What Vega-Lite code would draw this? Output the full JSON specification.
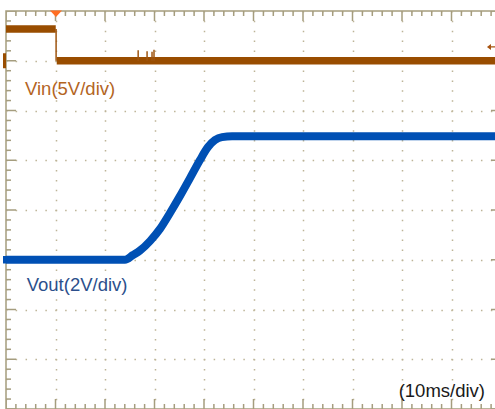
{
  "$schema": "https://vega.github.io/schema/vega-lite/v6.json",
  "width": 495,
  "height": 398,
  "autosize": "none",
  "padding": {"left": 6, "top": 11, "right": 0, "bottom": 0},
  "background": "#ffffff",
  "config": {
    "view": {"stroke": "#a59d7e", "strokeWidth": 1.5},
    "axisX": {"grid": true, "tickCount": 10, "gridDash": [1.5, 8.45], "gridDashOffset": 0.75, "gridColor": "#bdb497", "gridWidth": 1.5, "domain": false, "ticks": false, "labels": false},
    "axisY": {"grid": true, "tickCount": 8, "gridDash": [1.5, 8.4], "gridDashOffset": 0.75, "gridColor": "#bdb497", "gridWidth": 1.5, "domain": false, "ticks": false, "labels": false},
    "text": {"font": "Liberation Sans"}
  },
  "datasets": {
    "ticksX": [
      {"t": 0, "k": "major"}, {"t": 2, "k": "minor"}, {"t": 4, "k": "minor"}, {"t": 6, "k": "minor"}, {"t": 8, "k": "minor"},
      {"t": 10, "k": "major"}, {"t": 12, "k": "minor"}, {"t": 14, "k": "minor"}, {"t": 16, "k": "minor"}, {"t": 18, "k": "minor"},
      {"t": 20, "k": "major"}, {"t": 22, "k": "minor"}, {"t": 24, "k": "minor"}, {"t": 26, "k": "minor"}, {"t": 28, "k": "minor"},
      {"t": 30, "k": "major"}, {"t": 32, "k": "minor"}, {"t": 34, "k": "minor"}, {"t": 36, "k": "minor"}, {"t": 38, "k": "minor"},
      {"t": 40, "k": "major"}, {"t": 42, "k": "minor"}, {"t": 44, "k": "minor"}, {"t": 46, "k": "minor"}, {"t": 48, "k": "minor"},
      {"t": 50, "k": "major"}, {"t": 52, "k": "minor"}, {"t": 54, "k": "minor"}, {"t": 56, "k": "minor"}, {"t": 58, "k": "minor"},
      {"t": 60, "k": "major"}, {"t": 62, "k": "minor"}, {"t": 64, "k": "minor"}, {"t": 66, "k": "minor"}, {"t": 68, "k": "minor"},
      {"t": 70, "k": "major"}, {"t": 72, "k": "minor"}, {"t": 74, "k": "minor"}, {"t": 76, "k": "minor"}, {"t": 78, "k": "minor"},
      {"t": 80, "k": "major"}, {"t": 82, "k": "minor"}, {"t": 84, "k": "minor"}, {"t": 86, "k": "minor"}, {"t": 88, "k": "minor"},
      {"t": 90, "k": "major"}, {"t": 92, "k": "minor"}, {"t": 94, "k": "minor"}, {"t": 96, "k": "minor"}, {"t": 98, "k": "minor"},
      {"t": 100, "k": "major"}
    ],
    "ticksY": [
      {"div": 0, "k": "major"}, {"div": 0.2, "k": "minor"}, {"div": 0.4, "k": "minor"}, {"div": 0.6, "k": "minor"}, {"div": 0.8, "k": "minor"},
      {"div": 1, "k": "major"}, {"div": 1.2, "k": "minor"}, {"div": 1.4, "k": "minor"}, {"div": 1.6, "k": "minor"}, {"div": 1.8, "k": "minor"},
      {"div": 2, "k": "major"}, {"div": 2.2, "k": "minor"}, {"div": 2.4, "k": "minor"}, {"div": 2.6, "k": "minor"}, {"div": 2.8, "k": "minor"},
      {"div": 3, "k": "major"}, {"div": 3.2, "k": "minor"}, {"div": 3.4, "k": "minor"}, {"div": 3.6, "k": "minor"}, {"div": 3.8, "k": "minor"},
      {"div": 4, "k": "major"}, {"div": 4.2, "k": "minor"}, {"div": 4.4, "k": "minor"}, {"div": 4.6, "k": "minor"}, {"div": 4.8, "k": "minor"},
      {"div": 5, "k": "major"}, {"div": 5.2, "k": "minor"}, {"div": 5.4, "k": "minor"}, {"div": 5.6, "k": "minor"}, {"div": 5.8, "k": "minor"},
      {"div": 6, "k": "major"}, {"div": 6.2, "k": "minor"}, {"div": 6.4, "k": "minor"}, {"div": 6.6, "k": "minor"}, {"div": 6.8, "k": "minor"},
      {"div": 7, "k": "major"}, {"div": 7.2, "k": "minor"}, {"div": 7.4, "k": "minor"}, {"div": 7.6, "k": "minor"}, {"div": 7.8, "k": "minor"},
      {"div": 8, "k": "major"}
    ]
  },
  "layer": [
    {
      "layer": [
        {
          "data": {"name": "ticksX"},
          "mark": {"type": "tick", "orient": "vertical", "clip": true, "thickness": 1.5, "color": "#a59d7e", "opacity": 1},
          "encoding": {
            "x": {"field": "t", "type": "quantitative", "scale": {"domain": [0, 100], "nice": false, "zero": false}, "title": null},
            "y": {"datum": 8, "type": "quantitative", "scale": {"domain": [0, 8], "nice": false, "zero": false}, "title": null},
            "size": {"field": "k", "type": "ordinal", "scale": {"domain": ["minor", "major"], "range": [10, 20]}, "legend": null}
          }
        },
        {
          "data": {"name": "ticksX"},
          "mark": {"type": "tick", "orient": "vertical", "clip": true, "thickness": 1.5, "color": "#a59d7e", "opacity": 1},
          "encoding": {
            "x": {"field": "t", "type": "quantitative", "scale": {"domain": [0, 100], "nice": false, "zero": false}, "title": null},
            "y": {"datum": 0, "type": "quantitative", "scale": {"domain": [0, 8], "nice": false, "zero": false}, "title": null},
            "size": {"field": "k", "type": "ordinal", "scale": {"domain": ["minor", "major"], "range": [10, 20]}, "legend": null}
          }
        },
        {
          "data": {"name": "ticksY"},
          "mark": {"type": "tick", "orient": "horizontal", "clip": true, "thickness": 1.5, "color": "#a59d7e", "opacity": 1},
          "encoding": {
            "x": {"datum": 0, "type": "quantitative", "scale": {"domain": [0, 100], "nice": false, "zero": false}, "title": null},
            "y": {"field": "div", "type": "quantitative", "scale": {"domain": [0, 8], "nice": false, "zero": false}, "title": null},
            "size": {"field": "k", "type": "ordinal", "scale": {"domain": ["minor", "major"], "range": [10, 20]}, "legend": null}
          }
        },
        {
          "data": {"name": "ticksY"},
          "mark": {"type": "tick", "orient": "horizontal", "clip": true, "thickness": 1.5, "color": "#a59d7e", "opacity": 1},
          "encoding": {
            "x": {"datum": 100, "type": "quantitative", "scale": {"domain": [0, 100], "nice": false, "zero": false}, "title": null},
            "y": {"field": "div", "type": "quantitative", "scale": {"domain": [0, 8], "nice": false, "zero": false}, "title": null},
            "size": {"field": "k", "type": "ordinal", "scale": {"domain": ["minor", "major"], "range": [10, 20]}, "legend": null}
          }
        },
        {
          "data": {"values": [{"t": 3.84, "div": 6.312, "label": "Vin(5V/div)"}]},
          "mark": {"type": "text", "align": "left", "baseline": "alphabetic", "fontSize": 18.5, "color": "#b3651f"},
          "encoding": {
            "x": {"field": "t", "type": "quantitative", "scale": {"domain": [0, 100], "nice": false, "zero": false}, "title": null},
            "y": {"field": "div", "type": "quantitative", "scale": {"domain": [0, 8], "nice": false, "zero": false}, "title": null},
            "text": {"field": "label"}
          }
        },
        {
          "data": {"values": [{"t": 4.18, "div": 2.378, "label": "Vout(2V/div)"}]},
          "mark": {"type": "text", "align": "left", "baseline": "alphabetic", "fontSize": 18.5, "color": "#2c4f8c"},
          "encoding": {
            "x": {"field": "t", "type": "quantitative", "scale": {"domain": [0, 100], "nice": false, "zero": false}, "title": null},
            "y": {"field": "div", "type": "quantitative", "scale": {"domain": [0, 8], "nice": false, "zero": false}, "title": null},
            "text": {"field": "label"}
          }
        },
        {
          "data": {"values": [{"t": 96.77, "div": 0.247, "label": "(10ms/div)"}]},
          "mark": {"type": "text", "align": "right", "baseline": "alphabetic", "fontSize": 18.5, "color": "#1a1a1a"},
          "encoding": {
            "x": {"field": "t", "type": "quantitative", "scale": {"domain": [0, 100], "nice": false, "zero": false}, "title": null},
            "y": {"field": "div", "type": "quantitative", "scale": {"domain": [0, 8], "nice": false, "zero": false}, "title": null},
            "text": {"field": "label"}
          }
        },
        {
          "data": {"values": [{"t": 10.1, "div": 8}]},
          "mark": {"type": "point", "shape": "M-1,-0.1L1,-0.1L0,1Z", "size": 144, "filled": true, "opacity": 1, "strokeWidth": 0, "color": "#ff6e22", "clip": false},
          "encoding": {
            "x": {"field": "t", "type": "quantitative", "scale": {"domain": [0, 100], "nice": false, "zero": false}, "title": null},
            "y": {"field": "div", "type": "quantitative", "scale": {"domain": [0, 8], "nice": false, "zero": false}, "title": null}
          }
        },
        {
          "data": {"values": [{"t": 98.18, "div": 7.277}]},
          "mark": {"type": "point", "shape": "M-1,0L-0.2,-0.6L-0.2,0.6Z M-0.2,-0.12L1,-0.12L1,0.12L-0.2,0.12Z", "size": 100, "filled": true, "opacity": 1, "strokeWidth": 0, "color": "#a85410", "clip": false},
          "encoding": {
            "x": {"field": "t", "type": "quantitative", "scale": {"domain": [0, 100], "nice": false, "zero": false}, "title": null},
            "y": {"field": "div", "type": "quantitative", "scale": {"domain": [0, 8], "nice": false, "zero": false}, "title": null}
          }
        },
        {
          "data": {"values": [{"t": -0.3, "div": 7}]},
          "mark": {"type": "point", "shape": "M-0.2,-1L0.2,-1L0.2,1L-0.2,1Z", "size": 225, "filled": true, "opacity": 1, "strokeWidth": 0, "color": "#994d00", "clip": false},
          "encoding": {
            "x": {"field": "t", "type": "quantitative", "scale": {"domain": [0, 100], "nice": false, "zero": false}, "title": null},
            "y": {"field": "div", "type": "quantitative", "scale": {"domain": [0, 8], "nice": false, "zero": false}, "title": null}
          }
        },
        {
          "data": {"values": [{"t": -0.3, "div": 3}]},
          "mark": {"type": "point", "shape": "M-0.4,-1L0.4,-1L0.4,1L-0.4,1Z", "size": 56, "filled": true, "opacity": 1, "strokeWidth": 0, "color": "#0050b4", "clip": false},
          "encoding": {
            "x": {"field": "t", "type": "quantitative", "scale": {"domain": [0, 100], "nice": false, "zero": false}, "title": null},
            "y": {"field": "div", "type": "quantitative", "scale": {"domain": [0, 8], "nice": false, "zero": false}, "title": null}
          }
        }
      ]
    },
    {
      "layer": [
        {
          "data": {"values": [
            {"t": 0, "v": 3.19, "seg": "high"}, {"t": 10.05, "v": 3.19, "seg": "high"},
            {"t": 10.25, "v": 0, "seg": "low"}, {"t": 100, "v": 0, "seg": "low"}
          ]},
          "mark": {"type": "line", "color": "#994d00", "strokeWidth": 7.5, "strokeCap": "butt", "clip": true},
          "encoding": {
            "x": {"field": "t", "type": "quantitative", "scale": {"domain": [0, 100], "nice": false, "zero": false}, "title": null},
            "y": {"field": "v", "type": "quantitative", "scale": {"domain": [-35, 5], "nice": false, "zero": false}, "axis": null},
            "detail": {"field": "seg"}
          }
        },
        {
          "data": {"values": [
            {"t": 10.12, "v": 3.19, "v2": 0, "w": "edge"},
            {"t": 26.7, "v": 0, "v2": 1.05, "w": "spike"},
            {"t": 28.5, "v": 0, "v2": 0.95, "w": "spike"},
            {"t": 29.5, "v": 0, "v2": 0.9, "w": "spike"},
            {"t": 29.9, "v": 0, "v2": 1.1, "w": "spike"}
          ]},
          "mark": {"type": "rule", "color": "#9e5510", "strokeWidth": 1.5, "clip": true},
          "encoding": {
            "x": {"field": "t", "type": "quantitative", "scale": {"domain": [0, 100], "nice": false, "zero": false}, "title": null},
            "y": {"field": "v", "type": "quantitative", "scale": {"domain": [-35, 5], "nice": false, "zero": false}, "axis": null},
            "y2": {"field": "v2"}
          }
        }
      ]
    },
    {
      "data": {"values": [
        {"t": 0, "v": 0}, {"t": 24.04, "v": 0}, {"t": 25.66, "v": 0.19}, {"t": 27.07, "v": 0.37},
        {"t": 29.09, "v": 0.75}, {"t": 31.11, "v": 1.24}, {"t": 33.13, "v": 1.88}, {"t": 35.15, "v": 2.56},
        {"t": 37.17, "v": 3.28}, {"t": 39.19, "v": 4.01}, {"t": 40.81, "v": 4.53}, {"t": 42.22, "v": 4.81},
        {"t": 43.64, "v": 4.93}, {"t": 45.66, "v": 4.96}, {"t": 100, "v": 4.96}
      ]},
      "mark": {"type": "line", "color": "#0050b4", "strokeWidth": 8, "strokeCap": "butt", "interpolate": "monotone", "clip": true},
      "encoding": {
        "x": {"field": "t", "type": "quantitative", "scale": {"domain": [0, 100], "nice": false, "zero": false}, "title": null},
        "y": {"field": "v", "type": "quantitative", "scale": {"domain": [-6, 10], "nice": false, "zero": false}, "axis": null}
      }
    }
  ],
  "resolve": {"scale": {"y": "independent"}}
}
